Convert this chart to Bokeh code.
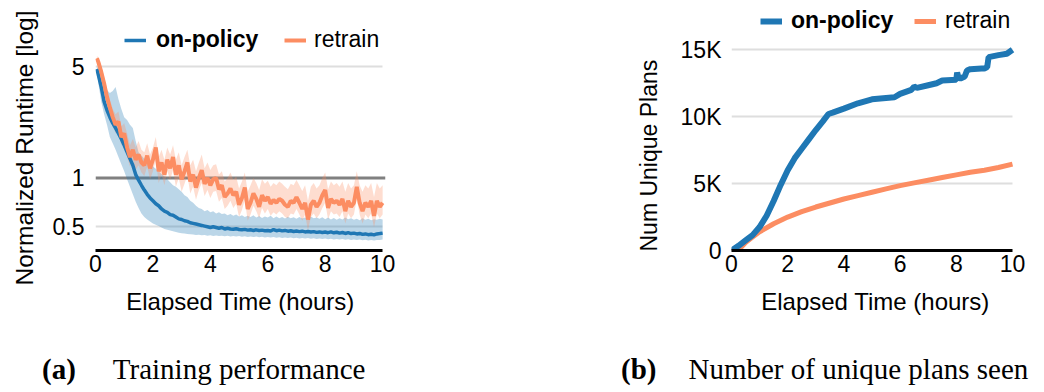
from bokeh.plotting import figure
from bokeh.models import Range1d, FixedTicker, Span, Legend, LegendItem, Title, Div
from bokeh.layouts import row, column
from bokeh.embed import file_html
from bokeh.resources import INLINE

BLUE = "#1f77b4"
ORANGE = "#fc8d62"
SANS = "Liberation Sans"

# ---------------- data: (a) training performance ----------------
hours = [0.05, 0.1, 0.2, 0.3, 0.4, 0.5, 0.6, 0.7, 0.8, 0.9, 1.0,
         1.1, 1.2, 1.3, 1.4, 1.5, 1.6, 1.7, 1.8, 1.9, 2.0,
         2.1, 2.2, 2.3, 2.4, 2.5, 2.6, 2.7, 2.8, 2.9, 3.0,
         3.1, 3.2, 3.3, 3.4, 3.5, 3.6, 3.7, 3.8, 3.9, 4.0,
         4.1, 4.2, 4.3, 4.4, 4.5, 4.6, 4.7, 4.8, 4.9, 5.0,
         5.1, 5.2, 5.3, 5.4, 5.5, 5.6, 5.7, 5.8, 5.9, 6.0,
         6.1, 6.2, 6.3, 6.4, 6.5, 6.6, 6.7, 6.8, 6.9, 7.0,
         7.1, 7.2, 7.3, 7.4, 7.5, 7.6, 7.7, 7.8, 7.9, 8.0,
         8.1, 8.2, 8.3, 8.4, 8.5, 8.6, 8.7, 8.8, 8.9, 9.0,
         9.1, 9.2, 9.3, 9.4, 9.5, 9.6, 9.7, 9.8, 9.9, 10.0]

retrain_mean = [5.6, 5.3, 4.6, 3.9, 3.2, 2.75, 2.4, 2.15, 2.25, 1.8, 1.9,
                1.55, 1.35, 1.5, 1.3, 1.4, 1.25, 1.2, 1.38, 1.15, 1.3,
                1.55, 1.1, 1.25, 1.05, 1.3, 1.15, 1.35, 1.05, 1.2, 0.98,
                1.1, 1.25, 0.95, 1.05, 0.87, 1.0, 1.12, 0.92, 1.0, 0.9,
                0.98, 1.0, 0.85, 0.9, 0.76, 0.8, 0.86, 0.78, 0.82, 0.68,
                0.75, 0.87, 0.64, 0.7, 0.8, 0.74, 0.66, 0.78, 0.72, 0.76,
                0.69, 0.73, 0.7, 0.74, 0.72, 0.68, 0.66, 0.72, 0.7, 0.76,
                0.7, 0.64, 0.7, 0.55, 0.68, 0.72, 0.66, 0.7, 0.78, 0.84,
                0.65, 0.74, 0.7, 0.72, 0.68, 0.74, 0.62, 0.72, 0.66, 0.7,
                0.88, 0.7, 0.62, 0.7, 0.66, 0.72, 0.58, 0.72, 0.66, 0.7]

retrain_upper = [5.8, 5.6, 5.0, 4.3, 3.6, 3.1, 2.7, 2.5, 2.6, 2.1, 2.2,
                 1.9, 1.6, 1.75, 1.55, 1.7, 1.5, 1.45, 1.65, 1.4, 1.55,
                 1.8, 1.35, 1.5, 1.3, 1.55, 1.4, 1.6, 1.3, 1.45, 1.2,
                 1.35, 1.5, 1.2, 1.3, 1.1, 1.25, 1.4, 1.15, 1.25, 1.12,
                 1.2, 1.22, 1.05, 1.1, 0.95, 1.0, 1.08, 0.97, 1.02, 0.86,
                 0.95, 1.08, 0.82, 0.9, 1.0, 0.93, 0.84, 0.98, 0.92, 0.96,
                 0.88, 0.93, 0.9, 0.95, 0.92, 0.88, 0.85, 0.92, 0.9, 0.97,
                 0.9, 0.83, 0.9, 0.72, 0.88, 0.93, 0.86, 0.9, 1.0, 1.08,
                 0.85, 0.95, 0.9, 0.93, 0.88, 0.95, 0.82, 0.93, 0.86, 0.9,
                 1.1, 0.9, 0.82, 0.9, 0.86, 0.93, 0.76, 0.93, 0.86, 0.9]

retrain_lower = [5.3, 5.0, 4.2, 3.5, 2.9, 2.45, 2.15, 1.9, 1.95, 1.6, 1.65,
                 1.35, 1.18, 1.3, 1.12, 1.2, 1.08, 1.03, 1.18, 0.98, 1.1,
                 1.3, 0.93, 1.05, 0.9, 1.1, 0.97, 1.12, 0.88, 1.0, 0.82,
                 0.92, 1.04, 0.8, 0.88, 0.73, 0.84, 0.93, 0.77, 0.84, 0.75,
                 0.82, 0.83, 0.71, 0.75, 0.64, 0.67, 0.72, 0.65, 0.69, 0.57,
                 0.63, 0.73, 0.54, 0.59, 0.67, 0.62, 0.56, 0.65, 0.6, 0.64,
                 0.58, 0.61, 0.59, 0.62, 0.6, 0.57, 0.56, 0.6, 0.59, 0.64,
                 0.59, 0.54, 0.59, 0.47, 0.57, 0.6, 0.56, 0.59, 0.65, 0.7,
                 0.55, 0.62, 0.59, 0.6, 0.57, 0.62, 0.52, 0.6, 0.56, 0.59,
                 0.74, 0.59, 0.52, 0.59, 0.56, 0.6, 0.49, 0.6, 0.56, 0.59]

onpolicy_mean = [4.8, 4.4, 3.7, 3.0, 2.65, 2.4, 2.2, 2.05, 1.9, 1.75, 1.6,
                 1.45, 1.32, 1.2, 1.05, 0.97, 0.9, 0.84, 0.79, 0.75, 0.72,
                 0.69, 0.67, 0.64, 0.62, 0.61, 0.59, 0.585, 0.57, 0.555, 0.55,
                 0.54, 0.535, 0.525, 0.52, 0.515, 0.51, 0.505, 0.5, 0.495, 0.49,
                 0.495, 0.49, 0.485, 0.49, 0.48, 0.485, 0.48, 0.478, 0.482, 0.476,
                 0.474, 0.477, 0.472, 0.474, 0.47, 0.474, 0.469, 0.472, 0.468, 0.47,
                 0.466, 0.476, 0.468, 0.472, 0.467, 0.47, 0.465, 0.468, 0.463, 0.466,
                 0.462, 0.465, 0.46, 0.463, 0.459, 0.462, 0.457, 0.46, 0.456, 0.459,
                 0.455, 0.46, 0.454, 0.458, 0.452, 0.456, 0.45, 0.455, 0.449, 0.452,
                 0.447, 0.45, 0.444, 0.447, 0.442, 0.445, 0.441, 0.447, 0.449, 0.452]

onpolicy_upper = [5.0, 4.8, 4.3, 3.8, 3.55, 3.4, 3.5, 3.7, 3.1, 2.7, 2.4,
                  2.3, 2.15, 2.05, 1.7, 1.45, 1.38, 1.32, 1.28, 1.22, 1.18,
                  1.14, 1.1, 1.06, 1.02, 0.98, 0.94, 0.9, 0.88, 0.85, 0.82,
                  0.78, 0.76, 0.72, 0.7, 0.67, 0.65, 0.64, 0.62, 0.63, 0.61,
                  0.62, 0.6, 0.61, 0.595, 0.6, 0.585, 0.595, 0.58, 0.59, 0.575,
                  0.585, 0.57, 0.58, 0.57, 0.585, 0.565, 0.578, 0.562, 0.575, 0.565,
                  0.58, 0.56, 0.575, 0.56, 0.57, 0.558, 0.572, 0.56, 0.568, 0.555,
                  0.57, 0.558, 0.565, 0.552, 0.575, 0.56, 0.566, 0.555, 0.568, 0.552,
                  0.565, 0.55, 0.562, 0.548, 0.56, 0.55, 0.565, 0.552, 0.56, 0.548,
                  0.555, 0.545, 0.56, 0.548, 0.555, 0.545, 0.552, 0.548, 0.556, 0.55]

onpolicy_lower = [4.6, 3.9, 3.0, 2.5, 2.15, 1.8, 1.65, 1.5, 1.35, 1.22, 1.1,
                  0.98, 0.88, 0.79, 0.71, 0.65, 0.6, 0.57, 0.55, 0.535, 0.52,
                  0.51, 0.5, 0.49, 0.48, 0.475, 0.47, 0.465, 0.46, 0.455, 0.452,
                  0.45, 0.447, 0.445, 0.443, 0.44, 0.442, 0.438, 0.44, 0.436, 0.438,
                  0.434, 0.437, 0.433, 0.436, 0.432, 0.435, 0.431, 0.434, 0.43, 0.433,
                  0.429, 0.432, 0.428, 0.431, 0.427, 0.43, 0.426, 0.429, 0.425, 0.428,
                  0.424, 0.427, 0.423, 0.426, 0.422, 0.425, 0.421, 0.424, 0.42, 0.423,
                  0.419, 0.422, 0.418, 0.421, 0.417, 0.42, 0.416, 0.419, 0.415, 0.418,
                  0.414, 0.417, 0.413, 0.416, 0.412, 0.415, 0.411, 0.414, 0.41, 0.413,
                  0.409, 0.412, 0.408, 0.411, 0.407, 0.41, 0.406, 0.409, 0.41, 0.412]

left_y_ticks = [0.5, 1, 5]
left_y_labels = ["0.5", "1", "5"]
x_ticks = [0, 2, 4, 6, 8, 10]

# ---------------- data: (b) number of unique plans ----------------
plans_on_x = [0, 0.25, 0.5, 0.75, 1.0, 1.25, 1.5, 1.75, 2.0, 2.25, 2.5, 2.75,
              3.0, 3.25, 3.45, 3.6, 4.0, 4.5, 5.0, 5.5, 5.8, 6.0, 6.4, 6.5,
              6.6, 7.0, 7.3, 7.5, 8.0, 8.03, 8.08, 8.15, 8.3, 8.38, 8.5, 8.9,
              9.0, 9.1, 9.15, 9.5, 9.8, 10.0]
plans_on_y = [0, 350, 750, 1150, 1750, 2600, 3700, 4900, 6000, 6900, 7600, 8300,
              9000, 9650, 10200, 10300, 10600, 11000, 11300, 11400, 11450, 11700, 12000, 12250,
              12150, 12350, 12500, 12700, 12750, 13300, 12900, 12850, 13000, 13450, 13550, 13600,
              13600, 13700, 14450, 14600, 14700, 15000]
plans_re_x = [0, 0.15, 0.3, 0.5, 0.75, 1.0, 1.5, 2.0, 2.5, 3.0, 3.5, 4.0,
              4.5, 5.0, 5.5, 6.0, 6.5, 7.0, 7.5, 8.0, 8.5, 9.0, 9.5, 10.0]
plans_re_y = [0, 0, 150, 600, 1000, 1400, 2000, 2500, 2900, 3250, 3550, 3850,
              4100, 4350, 4600, 4850, 5050, 5250, 5450, 5650, 5850, 6000, 6200, 6450]
right_y_ticks = [0, 5000, 10000, 15000]
right_y_labels = ["0", "5K", "10K", "15K"]

FRAME_H = 250
BOTTOM = 80


def style_axes(p):
    p.outline_line_color = None
    p.background_fill_color = "white"
    p.xgrid.visible = False
    p.ygrid.grid_line_color = "#dedede"
    p.ygrid.grid_line_width = 2
    grid = p.ygrid[0]
    if "cross_bounds" in grid.properties():
        grid.cross_bounds = (0, 10)
    for ax in (p.xaxis[0], p.yaxis[0]):
        ax.major_tick_line_color = None
        ax.minor_tick_line_color = None
        ax.major_tick_out = 0
        ax.major_tick_in = 0
        ax.minor_tick_out = 0
        ax.minor_tick_in = 0
        ax.major_label_text_font = SANS
        ax.major_label_text_font_size = "23px"
        ax.major_label_text_color = "black"
        ax.axis_label_text_font = SANS
        ax.axis_label_text_font_size = "24px"
        ax.axis_label_text_font_style = "normal"
        ax.axis_label_text_color = "black"
    p.yaxis.axis_line_color = None
    p.xaxis.axis_line_color = "black"
    p.xaxis.axis_line_width = 3
    p.xaxis.bounds = (0, 10)
    p.xaxis.ticker = FixedTicker(ticks=x_ticks)
    p.xaxis.major_label_standoff = 4
    p.xaxis.axis_label_standoff = 13
    p.xaxis.axis_label = "Elapsed Time (hours)"


def add_ylabel(p, text, size, offset, standoff):
    p.add_layout(Title(text=text, align="left", vertical_align="top", offset=offset,
                       standoff=standoff, text_font=SANS, text_font_size=size,
                       text_font_style="normal", text_color="black"), "left")


def add_legends(p, r_on, r_re, x_on, x_re, y, sd_on, sd_re):
    common = dict(orientation="horizontal", border_line_color=None,
                  background_fill_alpha=0, padding=0, margin=0, spacing=0,
                  glyph_width=22, glyph_height=20,
                  label_text_font=SANS, label_text_font_size="23px",
                  label_text_color="black", label_height=20)
    l1 = Legend(items=[LegendItem(label="on-policy", renderers=[r_on])],
                location=(x_on, y), label_standoff=sd_on,
                label_text_font_style="bold", **common)
    l2 = Legend(items=[LegendItem(label="retrain", renderers=[r_re])],
                location=(x_re, y), label_standoff=sd_re, **common)
    p.add_layout(l1)
    p.add_layout(l2)


def caption(width, tag, text, pad_left, gap):
    html = ('<div style="font-family:\'Liberation Serif\',serif;font-size:29px;'
            'line-height:29px;color:#000;white-space:nowrap;margin:0;'
            'padding:25px 0 0 %dpx;"><b>%s</b><span style="margin-left:%dpx">%s</span></div>'
            % (pad_left, tag, gap, text))
    return Div(text=html, width=width, height=60, margin=0)


# ---------------- (a) ----------------
p1 = figure(frame_width=290, frame_height=FRAME_H, x_range=Range1d(0, 10.1),
            y_range=Range1d(0.352, 12.86), y_axis_type="log",
            output_backend="svg", toolbar_location=None,
            min_border_left=93, min_border_right=236, min_border_top=0, min_border_bottom=BOTTOM)
style_axes(p1)
p1.yaxis.ticker = FixedTicker(ticks=left_y_ticks)
p1.yaxis.major_label_overrides = {t: s for t, s in zip(left_y_ticks, left_y_labels)}
p1.yaxis.major_label_standoff = 11
p1.ygrid.ticker = FixedTicker(ticks=[0.5, 5])
add_ylabel(p1, "Normalized Runtime [log]", "24.5px", -35, 20)

p1.add_layout(Span(location=1, dimension="width", line_color="#808080",
                   line_width=3, level="underlay"))
p1.varea(x=hours, y1=onpolicy_lower, y2=onpolicy_upper, fill_color=BLUE, fill_alpha=0.3)
p1.varea(x=hours, y1=retrain_lower, y2=retrain_upper, fill_color=ORANGE, fill_alpha=0.3)
r1_on = p1.line(hours, onpolicy_mean, line_color=BLUE, line_width=3.5)
r1_re = p1.line(hours, retrain_mean, line_color=ORANGE, line_width=4)
add_legends(p1, r1_on, r1_re, 29, 189, 197, 10, 8)

# ---------------- (b) ----------------
p2 = figure(frame_width=288, frame_height=FRAME_H, x_range=Range1d(0, 10.25),
            y_range=Range1d(0, 18680), output_backend="svg", toolbar_location=None,
            min_border_left=108, min_border_right=29, min_border_top=0, min_border_bottom=BOTTOM)
style_axes(p2)
p2.yaxis.ticker = FixedTicker(ticks=right_y_ticks)
p2.yaxis.major_label_overrides = {t: s for t, s in zip(right_y_ticks, right_y_labels)}
p2.yaxis.major_label_standoff = 10
p2.ygrid.ticker = FixedTicker(ticks=[5000, 10000, 15000])
add_ylabel(p2, "Num Unique Plans", "23px", -1, 28)

r2_re = p2.line(plans_re_x, plans_re_y, line_color=ORANGE, line_width=5)
r2_on = p2.line(plans_on_x, plans_on_y, line_color=BLUE, line_width=6)
add_legends(p2, r2_on, r2_re, 29, 183, 216, 9, 9)

cap1 = caption(619, "(a)", "Training performance", 42, 37)
cap2 = caption(425, "(b)", "Number of unique plans seen", 2, 32)

layout = column(row(p1, p2), row(cap1, cap2))
open("out.html", "w").write(file_html(layout, INLINE))
